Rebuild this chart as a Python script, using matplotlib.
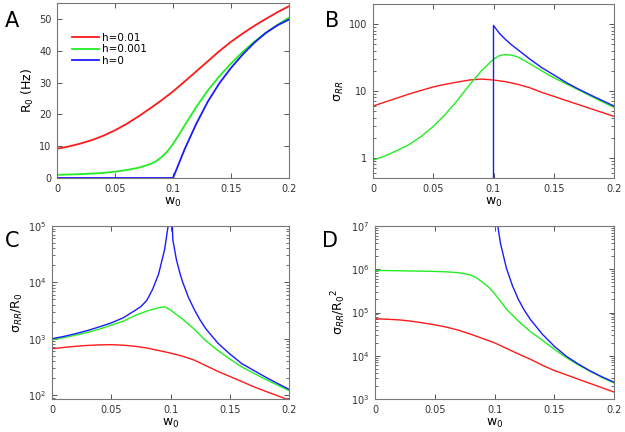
import numpy as np
import matplotlib
matplotlib.use("Agg")
import matplotlib.pyplot as plt
from matplotlib.ticker import FixedLocator, FuncFormatter, LogLocator, NullFormatter

# ─────────────────────────────────────────────
#  Data
# ─────────────────────────────────────────────

W_STEP = [0.0, 0.01, 0.02, 0.03, 0.04, 0.05, 0.06, 0.07, 0.08, 0.09, 0.10,
          0.11, 0.12, 0.13, 0.14, 0.15, 0.16, 0.17, 0.18, 0.19, 0.20]

# Panel A : R0 (Hz)
a_red = [9.2, 9.9, 10.8, 11.9, 13.3, 15.0, 17.0, 19.3, 21.8, 24.4, 27.2,
         30.3, 33.5, 36.7, 39.9, 42.8, 45.4, 47.8, 50.0, 52.1, 54.0]
a_green_w = [0.0, 0.01, 0.02, 0.03, 0.04, 0.05, 0.06, 0.07, 0.08, 0.085, 0.09,
             0.095, 0.10, 0.105, 0.11, 0.12, 0.13, 0.14, 0.15, 0.16, 0.17,
             0.18, 0.19, 0.20]
a_green = [1.0, 1.1, 1.2, 1.4, 1.6, 2.0, 2.5, 3.2, 4.3, 5.2, 6.5,
           8.3, 10.7, 13.5, 16.5, 22.3, 27.5, 32.0, 36.0, 39.6, 42.8,
           45.6, 48.1, 50.4]
a_blue_w = [0.0, 0.10, 0.105, 0.11, 0.12, 0.13, 0.14, 0.15, 0.16, 0.17,
            0.18, 0.19, 0.20]
a_blue = [0.0, 0.0, 4.5, 9.0, 17.0, 24.0, 29.8, 34.6, 38.8, 42.5,
          45.6, 48.0, 49.8]

# Panel B : sigma_RR
b_red = [5.96, 6.84, 7.85, 9.02, 10.2, 11.5, 12.6, 13.6, 14.6, 15.1, 14.6,
         13.8, 12.6, 11.2, 9.55, 8.32, 7.24, 6.31, 5.50, 4.79, 4.17]
b_green_w = [0.0, 0.01, 0.02, 0.03, 0.04, 0.05, 0.06, 0.07, 0.08, 0.09, 0.10,
             0.105, 0.11, 0.115, 0.12, 0.13, 0.14, 0.15, 0.16, 0.17, 0.18,
             0.19, 0.20]
b_green = [0.92, 1.07, 1.29, 1.58, 2.09, 2.95, 4.47, 7.24, 12.3, 20.0, 29.9,
           33.9, 35.1, 34.3, 32.4, 25.7, 20.0, 15.8, 12.9, 10.5, 8.51,
           6.92, 5.69]
b_blue_w = [0.10, 0.10, 0.105, 0.11, 0.115, 0.12, 0.13, 0.14, 0.15, 0.16,
            0.17, 0.18, 0.19, 0.20]
b_blue = [0.1, 95.5, 72.4, 58.9, 49.0, 41.7, 30.2, 22.4, 17.4, 13.5,
          10.8, 8.81, 7.24, 5.96]

# Panel C : sigma_RR / R0
c_red = [661, 700, 733, 759, 776, 782, 767, 733, 684, 617, 556,
         490, 417, 331, 263, 214, 174, 141, 117, 97.7, 81.3]
c_green_w = [0.0, 0.01, 0.02, 0.03, 0.04, 0.05, 0.06, 0.07, 0.08, 0.09,
             0.095, 0.10, 0.105, 0.11, 0.12, 0.13, 0.14, 0.15, 0.16, 0.17,
             0.18, 0.19, 0.20]
c_green = [955, 1047, 1161, 1288, 1479, 1738, 2042, 2570, 3090, 3548,
           3673, 3236, 2692, 2239, 1479, 912, 617, 437, 316, 245,
           191, 151, 120]
c_blue_w = [0.0, 0.01, 0.02, 0.03, 0.04, 0.05, 0.06, 0.07, 0.075, 0.08,
            0.085, 0.09, 0.095, 0.098, 0.0995, 0.10, 0.1005, 0.102, 0.105,
            0.108, 0.11, 0.115, 0.12, 0.125, 0.13, 0.14, 0.15, 0.16, 0.17,
            0.18, 0.19, 0.20]
c_blue = [1000, 1096, 1230, 1396, 1622, 1905, 2344, 3162, 3715, 4786,
          7586, 14130, 38020, 100000, 316200, 1e7, 316200, 56230, 25120,
          14450, 10470, 5495, 3311, 2138, 1479, 832, 537, 363, 275, 209,
          162, 126]

# Panel D : sigma_RR / R0^2
d_red = [71600, 70000, 67600, 63100, 57500, 51900, 45700, 38900, 31600,
         25100, 19950, 14800, 11000, 8320, 6030, 4570, 3630, 2880, 2290,
         1820, 1450]
d_green_w = [0.0, 0.01, 0.02, 0.03, 0.04, 0.05, 0.06, 0.07, 0.08, 0.085,
             0.09, 0.095, 0.10, 0.105, 0.11, 0.12, 0.13, 0.14, 0.15, 0.16,
             0.17, 0.18, 0.19, 0.20]
d_green = [933000, 933000, 923000, 912000, 902000, 891000, 871000, 832000,
           741000, 631000, 501000, 389000, 275000, 182000, 120000, 63100,
           36300, 22900, 14100, 9120, 6170, 4370, 3160, 2340]
d_blue_w = [0.1005, 0.102, 0.103, 0.105, 0.11, 0.115, 0.12, 0.125, 0.13,
            0.14, 0.15, 0.16, 0.17, 0.18, 0.19, 0.20]
d_blue = [3.16e8, 2.0e7, 8.91e6, 3.98e6, 1.05e6, 417000, 200000, 112000,
          69200, 31600, 16600, 9770, 6460, 4470, 3240, 2450]

LABELS = ["h=0.01", "h=0.001", "h=0"]
RED, GREEN, BLUE = "#ff1a1a", "#22ee22", "#1a1aff"
X_TICKS = [0, 0.05, 0.1, 0.15, 0.2]
X_TICKLABELS = ["0", "0.05", "0.1", "0.15", "0.2"]

# ─────────────────────────────────────────────
#  Figure
# ─────────────────────────────────────────────

fig = plt.figure(figsize=(6.25, 4.32), dpi=100)
W, H = 625.0, 432.0


def make_axes(left, top, right, bottom):
    return fig.add_axes([left / W, 1 - bottom / H, (right - left) / W, (bottom - top) / H])


def style(ax, ylabel, log=False):
    ax.set_xlim(0, 0.2)
    ax.xaxis.set_major_locator(FixedLocator(X_TICKS))
    ax.set_xticklabels(X_TICKLABELS)
    ax.set_xlabel("w$_0$", fontsize=9, labelpad=2)
    ax.set_ylabel(ylabel, fontsize=9, labelpad=2)
    for s in ax.spines.values():
        s.set_color("#777777")
        s.set_linewidth(0.8)
    ax.tick_params(which="both", direction="in", top=True, right=True,
                   colors="#555555", labelcolor="#333333", labelsize=7, pad=4)
    ax.tick_params(which="major", length=3.5, width=0.7)
    ax.tick_params(which="minor", length=2, width=0.6)
    if log:
        ax.set_yscale("log")
        ax.yaxis.set_minor_locator(LogLocator(base=10, subs=np.arange(2, 10)))
        ax.yaxis.set_minor_formatter(NullFormatter())


# A
axA = make_axes(57, 3, 289, 178)
axA.plot(W_STEP, a_red, color=RED, lw=1.3, label=LABELS[0])
axA.plot(a_green_w, a_green, color=GREEN, lw=1.3, label=LABELS[1])
axA.plot(a_blue_w, a_blue, color=BLUE, lw=1.3, label=LABELS[2])
style(axA, "R$_0$ (Hz)")
axA.set_ylim(0, 55)
axA.set_yticks([0, 10, 20, 30, 40, 50])
axA.legend(loc="upper left", bbox_to_anchor=(0.065, 0.83), frameon=False,
           fontsize=7.5, handlelength=2.6, handletextpad=0.3,
           labelspacing=0.15, borderpad=0, borderaxespad=0)

# B
axB = make_axes(373, 4, 614, 178)
axB.plot(W_STEP, b_red, color=RED, lw=1.0)
axB.plot(b_green_w, b_green, color=GREEN, lw=1.0)
axB.plot(b_blue_w, b_blue, color=BLUE, lw=1.0)
style(axB, "σ$_{RR}$", log=True)
axB.set_ylim(0.5, 200)
axB.yaxis.set_major_locator(FixedLocator([1, 10, 100]))
axB.yaxis.set_major_formatter(FuncFormatter(lambda v, p: f"{v:g}"))

# C
axC = make_axes(52, 226, 289, 399)
axC.plot(W_STEP, c_red, color=RED, lw=1.0)
axC.plot(c_green_w, c_green, color=GREEN, lw=1.0)
axC.plot(c_blue_w, c_blue, color=BLUE, lw=1.0)
style(axC, "σ$_{RR}$/R$_0$", log=True)
axC.set_ylim(85, 1e5)

# D
axD = make_axes(375, 226, 614, 399)
axD.plot(W_STEP, d_red, color=RED, lw=1.0)
axD.plot(d_green_w, d_green, color=GREEN, lw=1.0)
axD.plot(d_blue_w, d_blue, color=BLUE, lw=1.0)
style(axD, "σ$_{RR}$/R$_0$$^2$", log=True)
axD.set_ylim(1e3, 1e7)

# panel letters
for txt, x, y in [("A", 12, 21), ("B", 332, 21), ("C", 12, 241), ("D", 330, 241)]:
    fig.text(x / W, 1 - y / H, txt, fontsize=15, ha="center", va="center")

fig.savefig("out.png", dpi=100)
